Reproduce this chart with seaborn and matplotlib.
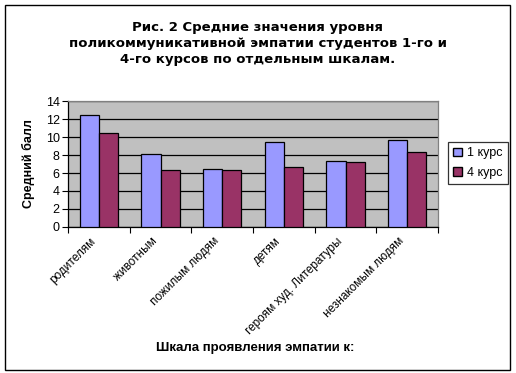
import matplotlib
matplotlib.use("Agg")
import matplotlib.pyplot as plt
import matplotlib.patches as mpatches
import numpy as np
import pandas as pd
import seaborn as sns

# ─── Data ────────────────────────────────────────────────────────────────────
categories = ["родителям", "животным", "пожилым людям", "детям",
              "героям худ. Литературы", "незнакомым людям"]
course_1 = [12.4, 8.1, 6.45, 9.5, 7.3, 9.7]
course_4 = [10.5, 6.35, 6.3, 6.7, 7.25, 8.3]
series_names = ["1 курс", "4 курс"]
y_ticks = [0, 2, 4, 6, 8, 10, 12, 14]

df = pd.DataFrame({
    "cat": categories * 2,
    "val": course_1 + course_4,
    "series": [series_names[0]] * len(categories) + [series_names[1]] * len(categories),
})

# ─── Style ───────────────────────────────────────────────────────────────────
sns.set_style("white")
plt.rcParams["font.family"] = ["Liberation Sans", "DejaVu Sans"]
plt.rcParams.update({"text.color": "black", "axes.labelcolor": "black",
                     "xtick.color": "black", "ytick.color": "black"})

fig = plt.figure(figsize=(5.16, 3.73), dpi=100)
W, H = 516, 373
ax = fig.add_axes([68 / W, 1 - 227 / H, 370 / W, 126 / H])
ax.set_facecolor("#C0C0C0")

sns.barplot(data=df, x="cat", y="val", hue="series",
            palette=["#9999FF", "#993366"], width=0.62,
            edgecolor="black", linewidth=0.9, saturation=1,
            legend=False, ax=ax, zorder=3)

ax.set_ylim(0, 14)
ax.set_xlim(-0.5, len(categories) - 0.5)
ax.set_yticks(y_ticks)
ax.set_yticklabels([str(t) for t in y_ticks], fontsize=9)
ax.yaxis.grid(True, color="black", linewidth=0.9, zorder=1)
ax.set_axisbelow(True)

# category ticks between groups; rotated labels end slightly left of centre
ax.set_xticks(np.arange(-0.5, len(categories), 1.0), minor=False)
ax.set_xticklabels([])
ax.set_xticks(np.arange(len(categories)) - 0.15, minor=True)
ax.set_xticklabels(categories, minor=True, rotation=45, ha="right",
                   rotation_mode="anchor", fontsize=8.5)
ax.tick_params(axis="x", which="major", length=4, direction="out",
               color="black", bottom=True)
ax.tick_params(axis="x", which="minor", length=0, pad=6)
ax.tick_params(axis="y", length=4, direction="out", color="black", left=True, pad=2)

for side in ["top", "right"]:
    ax.spines[side].set_color("#808080")
    ax.spines[side].set_linewidth(0.9)
for side in ["left", "bottom"]:
    ax.spines[side].set_color("black")
    ax.spines[side].set_linewidth(0.9)

ax.set_xlabel("")
ax.set_ylabel("Средний балл", fontsize=9, fontweight="bold", labelpad=8)

# ─── Texts ───────────────────────────────────────────────────────────────────
fig.text(258 / W, 1 - 43 / H,
         "Рис. 2 Средние значения уровня\n"
         "поликоммуникативной эмпатии студентов 1-го и\n"
         "4-го курсов по отдельным шкалам.",
         ha="center", va="center", fontsize=9.5, fontweight="bold",
         family=["DejaVu Sans"], linespacing=1.3)
fig.text(255 / W, 1 - 348 / H, "Шкала проявления эмпатии к:",
         ha="center", va="center", fontsize=9.5, fontweight="bold")

# ─── Legend ──────────────────────────────────────────────────────────────────
handles = [mpatches.Patch(facecolor=c, edgecolor="black", label=n)
           for c, n in zip(["#9999FF", "#993366"], series_names)]
leg = fig.legend(handles=handles, loc="center", bbox_to_anchor=(478 / W, 1 - 163 / H),
                 frameon=True, fontsize=9, handlelength=0.7, handleheight=0.7,
                 handletextpad=0.4, borderpad=0.4, labelspacing=0.6, fancybox=False)
leg.get_frame().set_edgecolor("black")
leg.get_frame().set_linewidth(0.9)

# ─── Outer frame ─────────────────────────────────────────────────────────────
fig.patches.append(mpatches.Rectangle((5 / W, 3 / H), 505 / W, 1 - 8 / H,
                                      transform=fig.transFigure, fill=False,
                                      edgecolor="black", linewidth=1))

fig.savefig("out.png", dpi=100)
